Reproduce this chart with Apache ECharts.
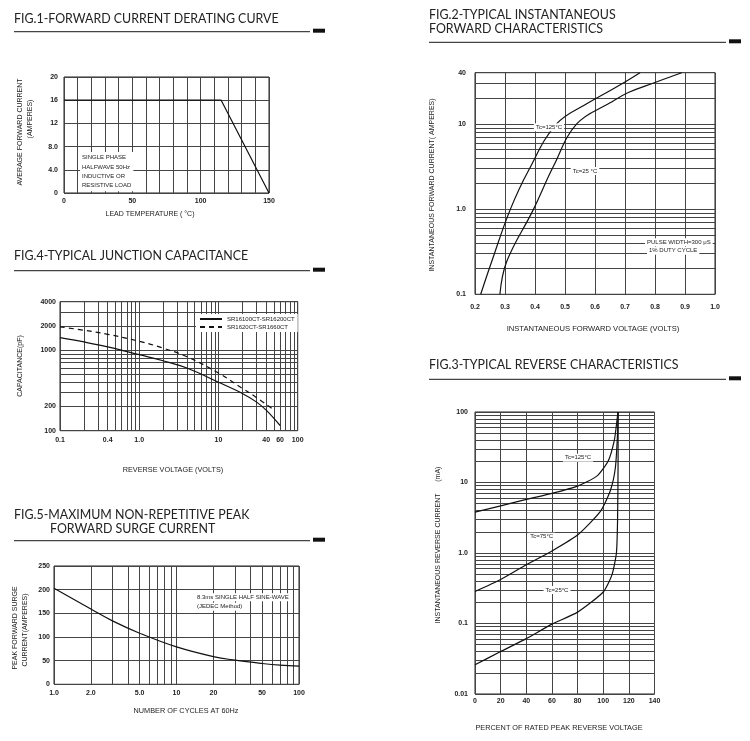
<!DOCTYPE html>
<html><head><meta charset="utf-8">
<script src="https://cdn.jsdelivr.net/npm/echarts@6/dist/echarts.min.js"></script>
<style>html,body{margin:0;padding:0;background:#fff}#c{width:750px;height:741px}</style>
</head><body><div id="c"></div>
<script>
// ---------- DATA ----------
// Fig.1 Forward current derating curve
const fig1Temp = [0, 115, 150];
const fig1Current = [16, 16, 0];
const fig1XTicks = [0, 50, 100, 150];
const fig1YTicks = [0, 4, 8, 12, 16, 20];
// Fig.2 Typical instantaneous forward characteristics
const fig2V125 = [0.219, 0.256, 0.317, 0.378, 0.472, 0.578, 0.639, 0.697, 0.75];
const fig2I125 = [0.1, 0.244, 0.98, 2.83, 10, 17.7, 23.4, 30.7, 40];
const fig2V25 = [0.283, 0.306, 0.394, 0.461, 0.539, 0.65, 0.711, 0.80, 0.889];
const fig2I25 = [0.1, 0.244, 0.98, 3.16, 10, 17.7, 23.4, 30.7, 40];
const fig2YTicks = [0.1, 1, 10, 40];
// Fig.3 Typical reverse characteristics
const fig3Pct125 = [0, 20, 40, 60, 80, 95, 104, 108.7, 110.5, 111.5];
const fig3I125 = [3.8, 4.65, 5.75, 7.0, 8.9, 12.3, 20.4, 40, 70, 100];
const fig3Pct75 = [0, 20, 40, 60, 80, 97.8, 105.6, 109.5, 111.2, 111.6];
const fig3I75 = [0.284, 0.42, 0.68, 1.07, 1.8, 3.9, 7.7, 16.3, 50, 100];
const fig3Pct25 = [0, 20, 40, 60, 80, 100, 106.8, 110.3, 111.2, 111.6, 111.6];
const fig3I25 = [0.026, 0.04, 0.061, 0.098, 0.145, 0.28, 0.49, 1.0, 3, 20, 100];
const fig3YTicks = [0.01, 0.1, 1, 10, 100];
// Fig.4 Typical junction capacitance
const fig4VoltsA = [0.1, 0.2, 0.4, 1, 2, 4, 10, 20, 30, 40, 60];
const fig4CapA = [1430, 1265, 1100, 880, 740, 600, 400, 290, 228, 180, 116];
const fig4VoltsB = [0.1, 0.2, 0.4, 1, 2, 4, 10, 20, 30, 50];
const fig4CapB = [1950, 1770, 1575, 1290, 1060, 830, 520, 336, 259, 181];
const fig4XTicks = [0.1, 0.4, 1, 10, 40, 60, 100];
const fig4YTicks = [100, 200, 1000, 2000, 4000];
const fig4Names = ['SR16100CT-SR16200CT', 'SR1620CT-SR1660CT'];
// Fig.5 Maximum non-repetitive peak forward surge current
const fig5Cycles = [1, 2, 3, 5, 10, 20, 30, 50, 70, 100];
const fig5Amps = [203, 159, 134, 108, 79, 58.5, 51, 44, 40.5, 38.5];
const fig5XTicks = [1, 2, 5, 10, 20, 50, 100];

// ---------- HELPERS ----------
const pairs = (xs, ys) => xs.map((x, i) => [x, ys[i]]);
function logVals(min, max) {
  const out = [];
  for (let e = Math.floor(Math.log10(min) + 1e-9); e <= Math.ceil(Math.log10(max)); e++) {
    for (let k = 1; k <= 9; k++) {
      const v = parseFloat((k * Math.pow(10, e)).toPrecision(6));
      if (v >= min * 0.999 && v <= max * 1.001 && out.indexOf(v) < 0) out.push(v);
    }
  }
  return out;
}
const fmt = v => v === 0 ? '0' : (v < 10 ? v.toFixed(v < 0.1 ? 2 : 1) : String(v));
const LBL = { fontSize: 7, fontWeight: 'bold', color: '#222', fontFamily: 'Liberation Sans' };
const SPL = { show: true, lineStyle: { color: '#444', width: 1 } };
const gridBox = (left, top, width, height) => ({ left, top, width, height, show: true, borderColor: '#222', borderWidth: 1, containLabel: false });

function valAxis(gi, min, max, interval, ticks, margin) {
  return {
    type: 'value', gridIndex: gi, min, max, interval,
    axisLine: { show: false }, axisTick: { show: false }, splitLine: SPL,
    axisLabel: Object.assign({}, LBL, { margin, customValues: ticks, formatter: fmt })
  };
}
function logAxis(gi, min, max, ticks, margin) {
  return {
    type: 'log', logBase: 10, gridIndex: gi, min, max,
    axisLine: { show: false },
    axisTick: { show: false, customValues: logVals(min, max) },
    splitLine: SPL,
    axisLabel: Object.assign({}, LBL, { margin, customValues: ticks, formatter: fmt })
  };
}
const line = (name, gi, data, opts) => Object.assign({
  name, type: 'line', xAxisIndex: gi, yAxisIndex: gi, data, symbol: 'none', showSymbol: false,
  smooth: 0.4, silent: true,
  lineStyle: { color: '#111', width: 1.2, type: 'solid' },
  itemStyle: { color: '#111' }
}, opts || {});

const TF = 'Lato';
const title = (text, left, top) => ({ text, left, top, padding: 0, textStyle: { fontFamily: TF, fontSize: 12.4, fontWeight: 'normal', color: '#222' } });
const rule = (x1, x2, y) => [
  { type: 'line', shape: { x1, y1: y, x2, y2: y }, style: { stroke: '#444', lineWidth: 1.2 } },
  { type: 'rect', shape: { x: x2 + 3, y: y - 3, width: 12, height: 4 }, style: { fill: '#111' } }
];
const txt = (text, x, y, rot, size) => ({ type: 'text', x, y, rotation: rot || 0, z: 100,
  style: { text, fill: '#222', font: (size || 7) + 'px "Liberation Sans"', align: 'center', verticalAlign: 'middle' } });
const note = (text, x, y, align) => ({ type: 'text', x, y, z: 100,
  style: { text, fill: '#222', font: '6px "Liberation Sans"', align: align || 'center', verticalAlign: 'middle', backgroundColor: '#fff', padding: [1, 2] } });
const R = Math.PI / 2;

// ---------- CHART ----------
const chart = echarts.init(document.getElementById('c'), null, { renderer: 'canvas' });
chart.setOption({
  animation: false,
  backgroundColor: '#fff',
  title: [
    title('FIG.1-FORWARD CURRENT DERATING CURVE', 14, 13),
    title('FIG.4-TYPICAL JUNCTION CAPACITANCE', 14, 250),
    title('FIG.5-MAXIMUM NON-REPETITIVE PEAK', 14, 509),
    title('FORWARD SURGE CURRENT', 50, 523),
    title('FIG.2-TYPICAL INSTANTANEOUS', 429, 9),
    title('FORWARD CHARACTERISTICS', 429, 23),
    title('FIG.3-TYPICAL REVERSE CHARACTERISTICS', 429, 359)
  ],
  legend: {
    left: 196, top: 314, orient: 'vertical', itemWidth: 22, itemHeight: 6, itemGap: 2,
    backgroundColor: '#fff', padding: [2, 3], data: fig4Names,
    itemStyle: { opacity: 0 },
    textStyle: { fontSize: 6, color: '#222', fontFamily: 'Liberation Sans' }
  },
  grid: [
    gridBox(64, 77, 205, 116),
    gridBox(60, 301.7, 237.7, 129),
    gridBox(54, 566, 245, 118.3),
    gridBox(475, 72.7, 240, 221.6),
    gridBox(475, 412, 179.5, 282)
  ],
  xAxis: [
    valAxis(0, 0, 150, 10, fig1XTicks, 5),
    logAxis(1, 0.1, 100, fig4XTicks, 6),
    logAxis(2, 1, 100, fig5XTicks, 5),
    valAxis(3, 0.2, 1.0, 0.1, null, 9),
    valAxis(4, 0, 140, 20, null, 4)
  ],
  yAxis: [
    valAxis(0, 0, 20, 4, fig1YTicks, 6),
    logAxis(1, 100, 4000, fig4YTicks, 4),
    valAxis(2, 0, 250, 50, null, 4),
    logAxis(3, 0.1, 40, fig2YTicks, 9),
    logAxis(4, 0.01, 100, fig3YTicks, 7)
  ],
  series: [
    line('Fig1', 0, pairs(fig1Temp, fig1Current), { smooth: false }),
    line(fig4Names[0], 1, pairs(fig4VoltsA, fig4CapA)),
    line(fig4Names[1], 1, pairs(fig4VoltsB, fig4CapB), { lineStyle: { color: '#111', width: 1.2, type: [5, 4] } }),
    line('Fig5', 2, pairs(fig5Cycles, fig5Amps)),
    line('Tc=125°C fwd', 3, pairs(fig2V125, fig2I125)),
    line('Tc=25°C fwd', 3, pairs(fig2V25, fig2I25)),
    line('Tc=125°C rev', 4, pairs(fig3Pct125, fig3I125), { smooth: 0.2 }),
    line('Tc=75°C rev', 4, pairs(fig3Pct75, fig3I75), { smooth: 0.2 }),
    line('Tc=25°C rev', 4, pairs(fig3Pct25, fig3I25), { smooth: 0.2 })
  ],
  graphic: [].concat(
    rule(14, 310, 31.7), rule(14, 310, 270.7), rule(14, 310, 540.7), rule(429, 726, 42.3), rule(429, 726, 379.3),
    [
      // Fig.1
      txt('AVERAGE FORWARD CURRENT', 20, 132, R),
      txt('(AMPERES)', 30, 119, R),
      txt('LEAD TEMPERATURE ( °C)', 150, 214),
      { type: 'text', x: 80, y: 152, z: 100, style: { text: 'SINGLE PHASE\nHALFWAVE 50Hz\nINDUCTIVE OR\nRESISTIVE LOAD', fill: '#222', font: '6px "Liberation Sans"', lineHeight: 9.3, backgroundColor: '#fff', padding: [1, 2], verticalAlign: 'top' } },
      // Fig.4
      txt('CAPACITANCE(pF)', 20, 366, R),
      txt('REVERSE VOLTAGE (VOLTS)', 173, 470, 0, 7.3),
      // Fig.5
      txt('PEAK FORWARD SURGE', 15, 628, R),
      txt('CURRENT(AMPERES)', 25, 630, R),
      txt('NUMBER OF CYCLES AT 60Hz', 186, 711, 0, 7.3),
      note('8.3ms SINGLE HALF SINE-WAVE', 195, 597.3, 'left'),
      note('(JEDEC Method)', 195, 606.7, 'left'),
      // Fig.2
      txt('INSTANTANEOUS FORWARD CURRENT( AMPERES)', 432, 185, R),
      txt('INSTANTANEOUS FORWARD VOLTAGE (VOLTS)', 593, 329, 0, 7.6),
      note('Tc=125°C', 549, 127.3),
      note('Tc=25 °C', 585, 171),
      note('PULSE WIDTH=300 μS', 645, 242.3, 'left'),
      note('1% DUTY CYCLE', 647, 250.7, 'left'),
      // Fig.3
      txt('INSTANTANEOUS REVERSE CURRENT      (mA)', 438, 545, R),
      txt('PERCENT OF RATED PEAK REVERSE VOLTAGE', 559, 728, 0, 7.3),
      note('Tc=125°C', 578, 457.7),
      note('Tc=75°C', 541.7, 536.7),
      note('Tc=25°C', 557, 590)
    ]
  )
});
</script></body></html>
